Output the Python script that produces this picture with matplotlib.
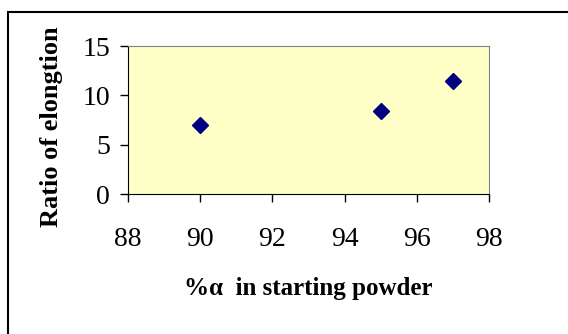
import matplotlib
matplotlib.use("Agg")
import matplotlib.pyplot as plt
from matplotlib.patches import Rectangle

# data
alpha_pct = [90, 95, 97]
elongation = [7.0, 8.4, 11.5]
x_ticks = [88, 90, 92, 94, 96, 98]
y_ticks = [0, 5, 10, 15]

plt.rcParams['font.family'] = ['Liberation Serif', 'DejaVu Serif']

fig = plt.figure(figsize=(5.68, 3.34), dpi=100)
ax = fig.add_axes([128 / 568, 1 - 194 / 334, (489 - 128) / 568, (194 - 46) / 334])

# outer chart frame (runs off the right and bottom edges)
fig.patches.append(Rectangle((8 / 568, -0.05), 1.0, 1 - 12 / 334 + 0.05,
                             transform=fig.transFigure, fill=False,
                             edgecolor='black', linewidth=1.5))

ax.set_facecolor('#FFFFC8')
ax.plot(alpha_pct, elongation, linestyle='none', marker='D',
        markersize=8, color='#000080')

ax.set_xlim(88, 98)
ax.set_ylim(0, 15)
ax.set_xticks(x_ticks)
ax.set_yticks(y_ticks)
ax.tick_params(direction='out', length=6, width=1, labelsize=20)
ax.tick_params(axis='x', pad=18)
ax.tick_params(axis='y', pad=7)

for side in ['top', 'right']:
    ax.spines[side].set_color('#808080')
for side in ['left', 'bottom']:
    ax.spines[side].set_color('black')

ax.set_xlabel('%\u03b1  in starting powder', fontsize=18, fontweight='bold', labelpad=18)
ax.set_ylabel('Ratio of elongtion', fontsize=19, fontweight='bold',
              va='center')
ax.yaxis.set_label_coords(-0.213, 0.455)

fig.savefig('out.png', dpi=100)
